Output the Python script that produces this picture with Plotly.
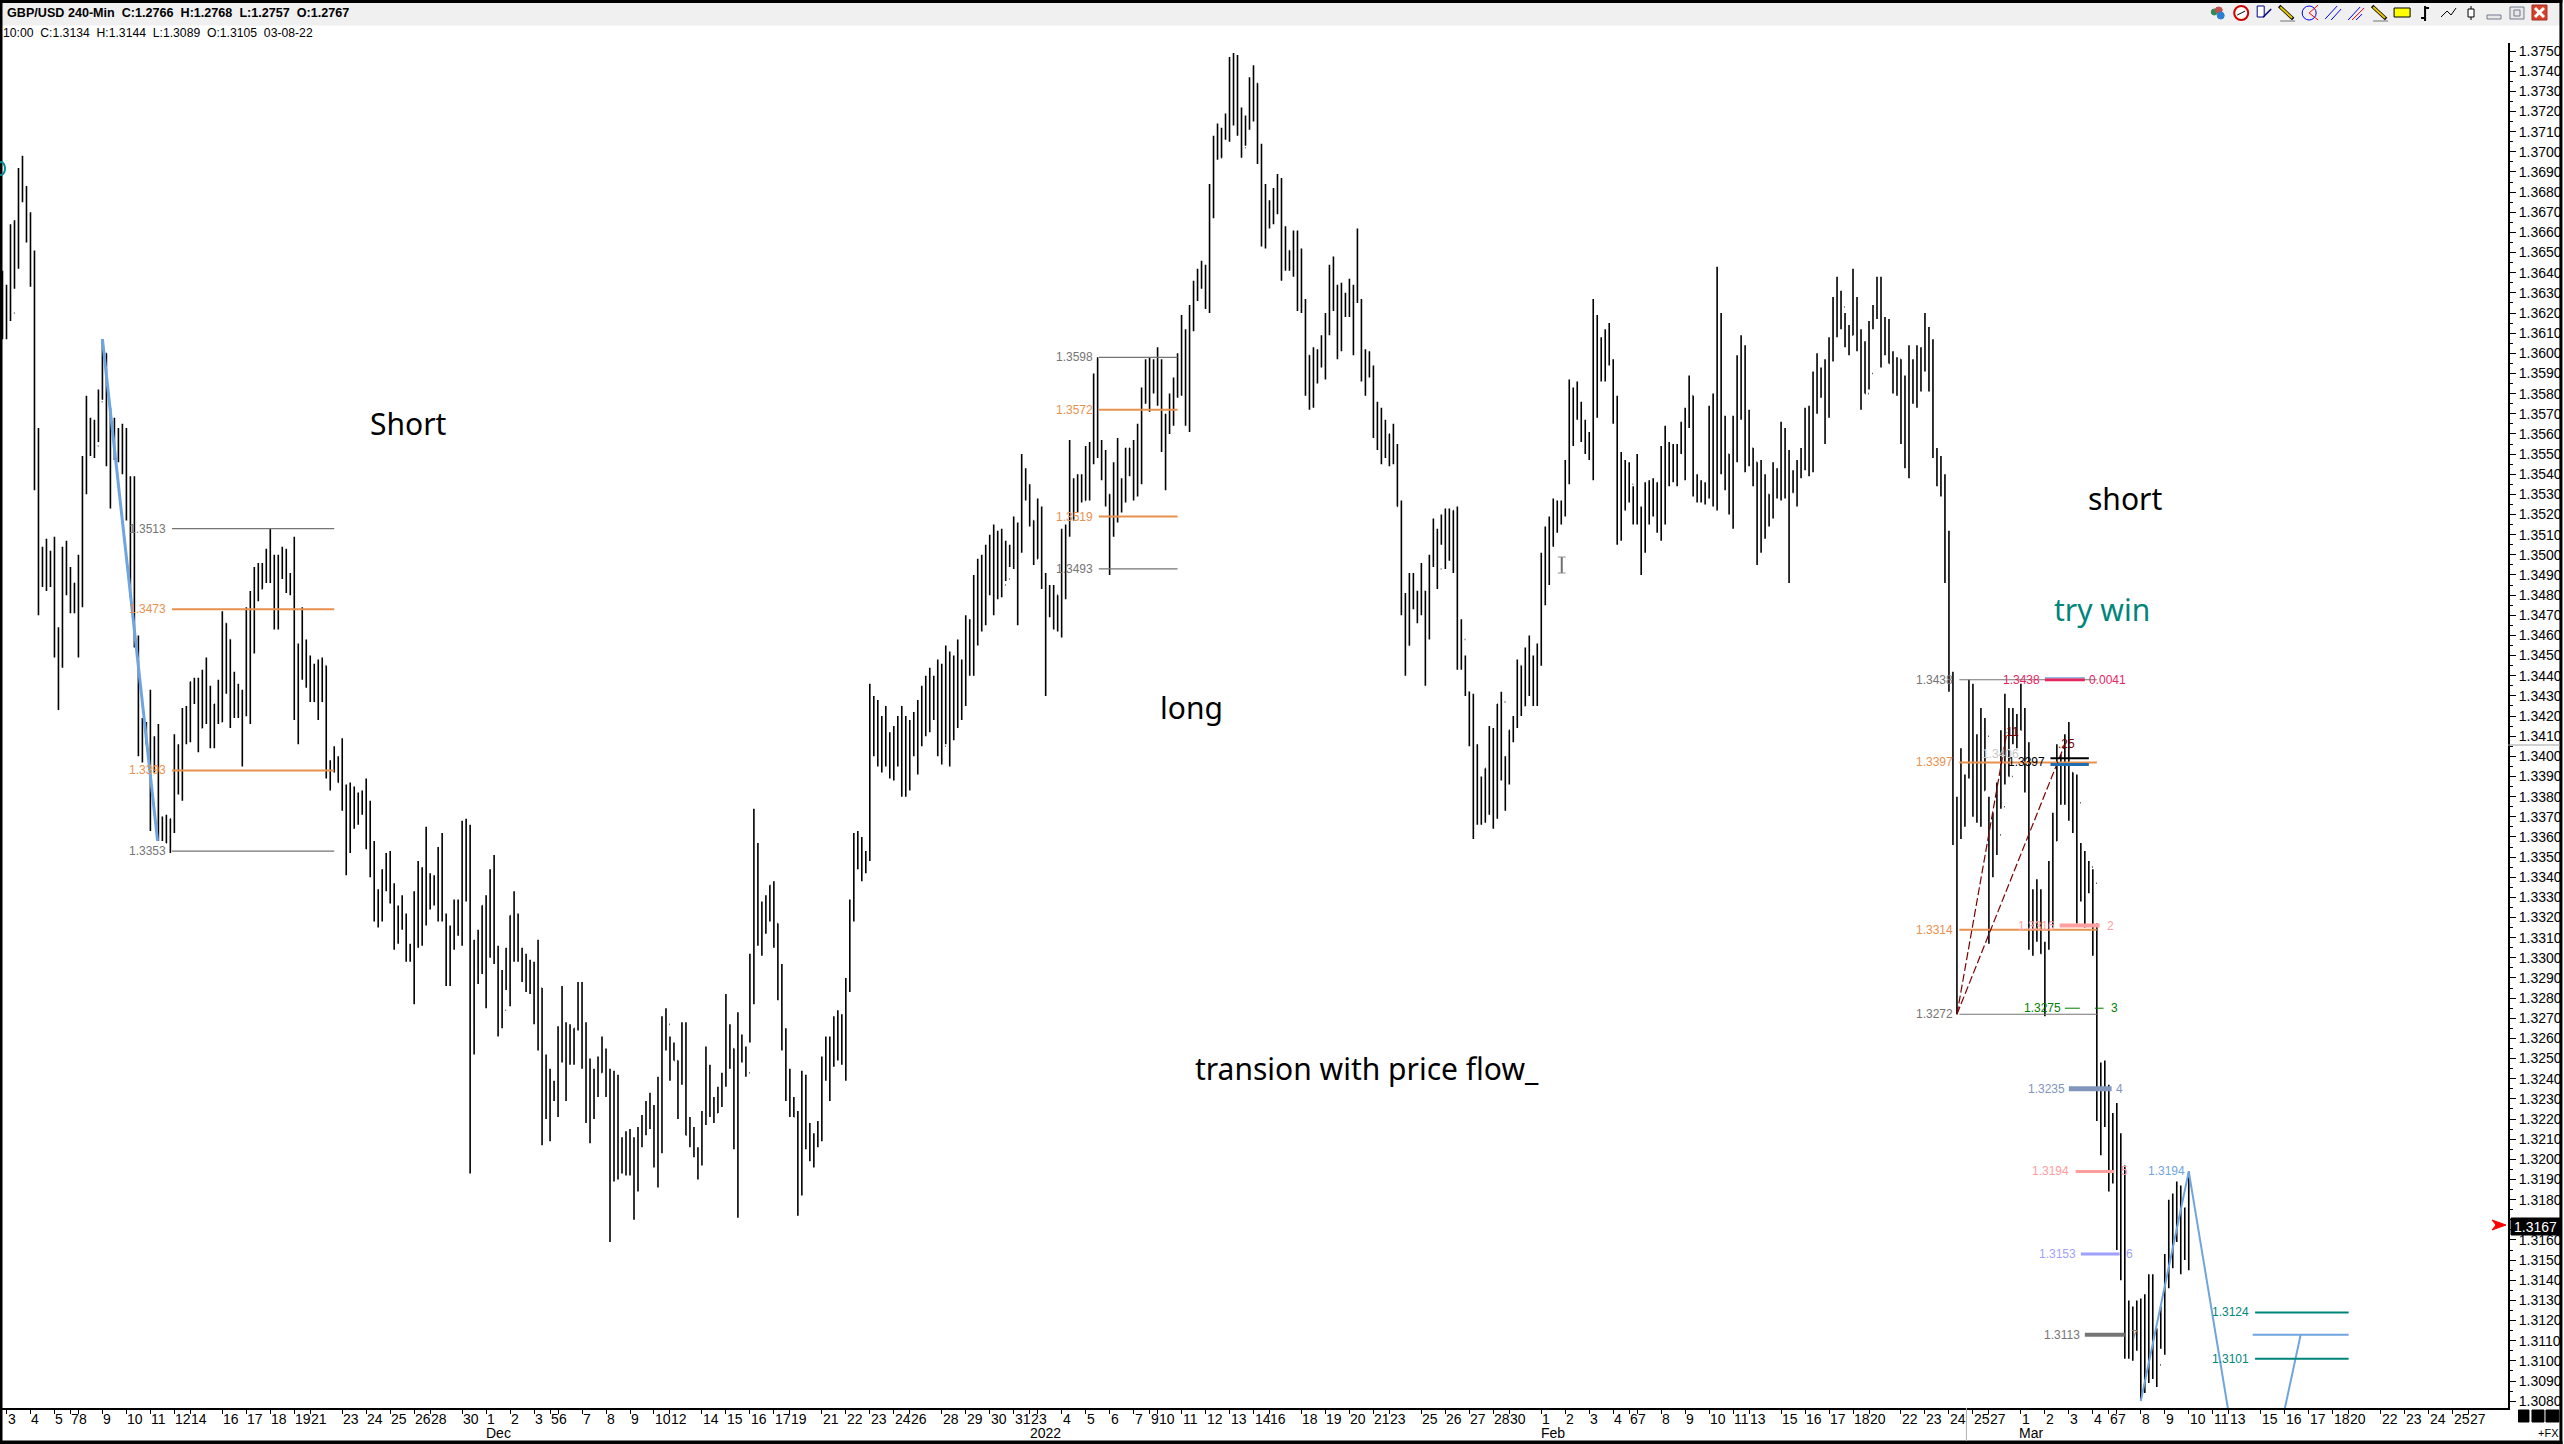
import plotly.graph_objects as go

# GBP/USD 240-min bars, prices in pips (13513 = 1.3513)
HIGH = [
    13641,13634,13664,13666,13692,13698,13683,13670,13651,
    13563,13504,13508,13502,13509,13464,13504,13507,13494,13486,13500,
    13549,13579,13568,13567,13582,13607,13600,13573,13568,13563,
    13565,13563,13539,13539,13460,13419,13417,13433,13410,13416,
    13370,13371,13369,13411,13406,13424,13425,13437,13439,13439,
    13443,13449,13435,13426,13438,13472,13466,13458,13442,13436,
    13433,13474,13482,13494,13496,13496,13503,13513,13500,13500,
    13504,13503,13491,13509,13456,13474,13458,13450,13446,13448,
    13449,13445,13398,13405,13400,13409,13386,13387,13385,13382,
    13383,13389,13378,13358,13334,13344,13352,13353,13337,13326,
    13331,13322,13307,13333,13348,13345,13365,13342,13341,13355,
    13362,13322,13316,13329,13329,13368,13369,13366,13309,13314,
    13326,13331,13344,13351,13306,13294,13305,13321,13333,13322,
    13305,13302,13299,13298,13309,13285,13252,13245,13239,13266,
    13286,13268,13267,13265,13288,13288,13268,13250,13245,13251,
    13261,13255,13245,13244,13242,13211,13214,13215,13211,13216,
    13222,13229,13233,13227,13241,13271,13275,13261,13258,13249,
    13268,13268,13221,13216,13206,13224,13256,13247,13231,13236,
    13243,13282,13267,13255,13273,13262,13256,13302,13374,13357,
    13328,13331,13336,13338,13317,13297,13265,13245,13231,13224,
    13244,13242,13218,13213,13219,13251,13261,13261,13271,13274,
    13272,13290,13329,13362,13363,13360,13353,13436,13430,13428,
    13420,13425,13412,13415,13420,13425,13420,13418,13422,13428,
    13435,13440,13444,13440,13448,13446,13455,13452,13450,13458,
    13448,13470,13468,13490,13498,13500,13505,13510,13515,13512,
    13513,13507,13505,13519,13516,13550,13543,13535,13517,13528,
    13524,13491,13485,13485,13480,13513,13515,13557,13538,13540,
    13540,13554,13556,13590,13598,13557,13552,13530,13546,13558,
    13538,13553,13553,13557,13565,13583,13597,13598,13597,13603,
    13597,13570,13580,13588,13600,13619,13612,13624,13636,13642,
    13646,13644,13684,13708,13714,13712,13719,13747,13749,13748,
    13722,13718,13737,13743,13734,13704,13684,13676,13682,13689,
    13687,13663,13651,13661,13661,13652,13627,13599,13603,13602,
    13609,13620,13644,13648,13634,13635,13630,13637,13634,13662,
    13627,13602,13601,13594,13576,13573,13567,13560,13565,13555,
    13527,13481,13491,13491,13482,13496,13482,13500,13518,13513,
    13520,13523,13523,13522,13524,13468,13450,13432,13431,13406,
    13390,13394,13415,13414,13426,13432,13400,13413,13420,13448,
    13445,13454,13460,13450,13456,13501,13514,13519,13528,13527,
    13527,13547,13587,13583,13586,13576,13567,13561,13627,13619,
    13608,13612,13615,13597,13579,13551,13547,13546,13534,13550,
    13524,13536,13537,13538,13536,13554,13564,13556,13555,13555,
    13566,13573,13589,13579,13540,13537,13536,13574,13580,13643,
    13620,13569,13550,13569,13599,13609,13604,13572,13553,13546,
    13547,13540,13530,13546,13543,13566,13563,13552,13542,13547,
    13553,13573,13574,13591,13600,13593,13597,13608,13628,13638,
    13631,13620,13614,13642,13628,13612,13606,13616,13624,13638,
    13638,13618,13617,13601,13598,13597,13589,13604,13597,13604,
    13603,13620,13613,13607,13553,13549,13540,13512,13442,13380,
    13404,13391,13438,13436,13411,13424,13419,13380,13372,13387,
    13413,13431,13424,13424,13421,13436,13424,13407,13334,13339,
    13334,13308,13348,13372,13406,13401,13411,13417,13392,13391,
    13357,13353,13348,13344,13317,13248,13249,13237,13223,13228,
    13213,13197,13130,13127,13130,13131,13133,13143,13143,13116,
    13127,13153,13180,13183,13189,13187,13176,13194,
]
LOW = [
    13607,13607,13616,13632,13642,13675,13655,13633,13532,
    13470,13484,13482,13484,13449,13423,13444,13480,13471,13471,13449,
    13474,13530,13549,13548,13556,13577,13544,13523,13547,13546,
    13540,13517,13479,13454,13400,13397,13406,13363,13392,13358,
    13358,13357,13352,13362,13381,13378,13406,13407,13426,13402,
    13414,13416,13404,13404,13416,13417,13431,13414,13419,13419,
    13395,13420,13416,13451,13477,13483,13486,13486,13463,13463,
    13488,13481,13480,13418,13406,13438,13434,13427,13427,13418,
    13427,13389,13383,13392,13387,13373,13341,13352,13364,13366,
    13371,13354,13340,13318,13315,13318,13333,13327,13304,13307,
    13314,13298,13298,13277,13305,13306,13316,13324,13326,13318,
    13318,13286,13286,13304,13311,13306,13328,13193,13252,13287,
    13292,13275,13300,13297,13261,13265,13284,13276,13298,13298,
    13288,13283,13282,13267,13254,13207,13220,13209,13229,13221,
    13248,13229,13247,13247,13264,13245,13218,13208,13220,13231,
    13243,13231,13159,13189,13190,13193,13192,13192,13170,13184,
    13206,13212,13215,13196,13186,13203,13254,13239,13249,13220,
    13237,13212,13206,13201,13190,13197,13217,13221,13218,13223,
    13226,13236,13245,13205,13171,13248,13241,13258,13277,13306,
    13301,13312,13318,13305,13279,13254,13229,13221,13221,13172,
    13182,13205,13199,13196,13206,13209,13239,13229,13246,13249,
    13247,13239,13283,13318,13344,13338,13342,13348,13400,13395,
    13392,13395,13389,13388,13395,13380,13380,13383,13400,13391,
    13405,13410,13412,13418,13400,13396,13406,13395,13408,13414,
    13418,13425,13440,13440,13455,13462,13465,13480,13470,13478,
    13479,13487,13494,13493,13465,13501,13527,13514,13495,13498,
    13483,13430,13469,13463,13462,13459,13478,13509,13517,13521,
    13526,13527,13527,13545,13548,13537,13524,13490,13509,13516,
    13521,13526,13539,13527,13529,13535,13575,13571,13580,13574,
    13551,13532,13560,13564,13578,13579,13564,13561,13611,13626,
    13632,13622,13620,13667,13696,13697,13706,13705,13713,13708,
    13697,13703,13711,13715,13694,13653,13652,13662,13664,13669,
    13636,13641,13641,13638,13621,13620,13579,13572,13573,13585,
    13593,13587,13609,13621,13597,13601,13618,13618,13599,13625,
    13586,13579,13588,13558,13552,13545,13548,13544,13545,13524,
    13470,13440,13455,13473,13466,13470,13435,13458,13494,13483,
    13505,13493,13497,13491,13443,13443,13430,13405,13359,13366,
    13366,13367,13371,13364,13369,13388,13373,13386,13407,13414,
    13420,13425,13430,13425,13425,13445,13475,13485,13504,13511,
    13515,13519,13535,13554,13567,13556,13550,13547,13537,13568,
    13586,13586,13594,13565,13505,13507,13522,13526,13515,13515,
    13490,13501,13515,13519,13511,13507,13515,13534,13536,13534,
    13550,13537,13563,13529,13526,13526,13525,13528,13524,13522,
    13540,13532,13520,13513,13546,13567,13541,13544,13534,13495,
    13501,13508,13514,13518,13528,13527,13528,13486,13531,13524,
    13538,13542,13539,13541,13570,13578,13555,13568,13596,13608,
    13612,13603,13599,13609,13601,13572,13580,13582,13612,13617,
    13593,13599,13595,13580,13579,13555,13543,13538,13575,13573,
    13581,13591,13581,13548,13534,13529,13486,13432,13356,13272,
    13359,13365,13389,13370,13367,13365,13383,13307,13340,13351,
    13374,13386,13390,13406,13404,13413,13382,13304,13301,13308,
    13302,13271,13304,13315,13358,13376,13376,13368,13362,13317,
    13328,13315,13332,13301,13219,13202,13216,13184,13188,13155,
    13140,13101,13101,13100,13105,13081,13084,13089,13091,13087,
    13106,13103,13136,13146,13159,13143,13150,13145,
]
CLOSE = [
    13631,13630,13620,13663,13685,13680,13657,13644,13544,
    13491,13497,13498,13495,13450,13445,13503,13493,13472,13486,13489,
    13541,13557,13560,13554,13576,13600,13556,13555,13554,13550,
    13551,13534,13506,13459,13401,13406,13416,13392,13400,13370,
    13365,13357,13369,13394,13397,13422,13411,13437,13437,13414,
    13435,13422,13409,13426,13417,13466,13458,13428,13427,13428,
    13420,13431,13454,13490,13483,13490,13488,13492,13466,13497,
    13492,13489,13486,13432,13440,13455,13441,13434,13445,13428,
    13445,13393,13395,13399,13387,13378,13368,13374,13374,13378,
    13379,13354,13353,13322,13324,13335,13344,13333,13313,13324,
    13317,13303,13305,13314,13337,13333,13336,13335,13337,13339,
    13319,13300,13309,13326,13317,13362,13344,13264,13295,13293,
    13326,13311,13343,13302,13275,13274,13288,13321,13311,13300,
    13298,13293,13290,13295,13285,13236,13231,13238,13230,13259,
    13266,13254,13261,13265,13284,13261,13226,13226,13242,13243,
    13253,13242,13216,13237,13202,13199,13207,13204,13205,13211,
    13218,13226,13219,13200,13228,13267,13267,13254,13249,13244,
    13254,13212,13212,13202,13204,13221,13232,13227,13223,13232,
    13242,13259,13255,13211,13257,13252,13243,13291,13356,13319,
    13319,13325,13336,13317,13289,13260,13233,13226,13221,13184,
    13238,13209,13204,13211,13216,13247,13253,13248,13258,13252,
    13248,13285,13328,13355,13345,13350,13350,13420,13415,13405,
    13410,13400,13392,13408,13412,13392,13400,13410,13415,13420,
    13425,13420,13435,13428,13440,13405,13445,13410,13440,13435,
    13440,13460,13445,13480,13490,13470,13498,13490,13500,13490,
    13485,13488,13503,13509,13504,13534,13532,13517,13498,13516,
    13486,13471,13476,13480,13468,13512,13514,13535,13526,13539,
    13527,13531,13548,13589,13552,13551,13530,13512,13534,13530,
    13527,13553,13544,13555,13539,13579,13584,13594,13585,13582,
    13553,13562,13574,13579,13596,13609,13573,13617,13635,13633,
    13641,13627,13677,13707,13697,13707,13710,13737,13738,13712,
    13702,13712,13732,13734,13700,13655,13670,13667,13674,13679,
    13651,13651,13643,13659,13634,13626,13599,13577,13594,13600,
    13608,13613,13629,13626,13612,13628,13623,13626,13633,13626,
    13598,13596,13592,13568,13572,13556,13553,13560,13546,13524,
    13473,13455,13485,13482,13476,13482,13467,13497,13501,13493,
    13508,13509,13507,13522,13459,13458,13432,13426,13379,13372,
    13382,13394,13393,13382,13426,13427,13387,13413,13417,13445,
    13425,13445,13440,13432,13450,13498,13495,13506,13520,13516,
    13525,13541,13560,13577,13575,13564,13552,13558,13581,13607,
    13593,13604,13596,13569,13511,13535,13527,13535,13520,13516,
    13521,13517,13535,13535,13517,13551,13538,13544,13537,13554,
    13555,13569,13579,13538,13533,13531,13530,13571,13546,13611,
    13553,13550,13532,13556,13573,13601,13547,13553,13546,13513,
    13527,13530,13523,13537,13530,13551,13542,13531,13531,13546,
    13551,13562,13550,13580,13583,13590,13583,13604,13617,13623,
    13623,13612,13609,13623,13606,13583,13580,13590,13618,13635,
    13604,13616,13595,13583,13597,13579,13551,13593,13579,13600,
    13592,13604,13605,13550,13541,13539,13496,13433,13358,13367,
    13372,13390,13390,13374,13387,13383,13410,13362,13362,13361,
    13375,13414,13390,13413,13418,13413,13396,13312,13315,13330,
    13302,13307,13347,13358,13377,13383,13394,13392,13381,13377,
    13333,13343,13345,13337,13230,13227,13226,13201,13213,13168,
    13172,13111,13103,13122,13111,13119,13106,13133,13099,13098,
    13112,13150,13161,13182,13171,13158,13176,13167,
]

# date axis: bar index of each tick and the day printed beside it
TICK_BARS = [1,7,13,17,19,25,31,37,43,47,55,61,67,73,77,85,91,97,103,107,115,
             121,127,133,137,139,145,151,157,163,167,175,181,187,193,197,205,211,
             217,223,227,235,241,247,253,257,259,265,271,277,283,287,289,295,301,
             307,313,317,325,331,337,343,347,355,361,367,373,377,385,391,397,403,
             407,409,415,421,427,433,437,445,451,457,463,467,475,481,487,493,497,
             505,511,517,523,527,529,535,541,547,553,557,565,571,577,583,587,595,
             601,607,613,617]
TICK_DAYS = [3,4,5,7,8,9,10,11,12,14,16,17,18,19,21,23,24,25,26,28,30,
             1,2,3,5,6,7,8,9,10,12,14,15,16,17,19,21,22,
             23,24,26,28,29,30,31,2,3,4,5,6,7,9,10,11,12,
             13,14,16,18,19,20,21,23,25,26,27,28,30,1,2,3,4,
             6,7,8,9,10,11,13,15,16,17,18,20,22,23,24,25,27,
             1,2,3,4,6,7,8,9,10,11,13,15,16,17,18,20,22,
             23,24,25,27]
MONTHS = ["Dec", "2022", "Feb", "Mar"]
MONTH_BARS = [124, 261, 388, 507.5]

# price axis, every 10 pips; the last price tag covers 1.3170
PRICE_TICKS = [(13080 + 10 * n) / 10000 for n in range(68)]
PRICE_TEXT = ["" if t == 1.317 else f"{t:.4f}" for t in PRICE_TICKS]

# page geometry of the plot area
W, H = 2564, 1444
L, R, T, B = 2, 2510, 43, 1408
px = lambda x: (x - L) / (R - L)
py = lambda y: (B - y) / (B - T)
FONT = "Liberation Sans"
ORANGE, GREY, TEAL, BLUE = "#e8914f", "#757575", "#00857a", "#6fa5de"

opens = [CLOSE[0]] + CLOSE[:-1]
bars = list(range(len(CLOSE)))
p = lambda vals: [v / 10000 for v in vals]

fig = go.Figure()


def level(x0, x1, price, color, width, dash="solid"):
    fig.add_trace(go.Scatter(x=[x0, x1], y=[price / 10000, price / 10000], mode="lines",
                             line=dict(color=color, width=width, dash=dash), hoverinfo="skip"))


def path(xs, prices, color, width, dash="solid"):
    fig.add_trace(go.Scatter(x=xs, y=p(prices), mode="lines",
                             line=dict(color=color, width=width, dash=dash), hoverinfo="skip"))


def label(x, price, text, color, anchor="right", size=12):
    fig.add_annotation(x=x, y=price / 10000, text=text, showarrow=False, xanchor=anchor,
                       borderpad=0, font=dict(family=FONT, size=size, color=color))


def big_text(x, price, text, color="#000000"):
    fig.add_annotation(x=x, y=price / 10000, text=text, showarrow=False,
                       font=dict(family="Noto Sans", size=30, color=color))


def page_text(x, y, text, anchor="left", size=12, color="#000000", bold=False):
    fig.add_annotation(xref="paper", yref="paper", x=px(x), y=py(y), text=f"<b>{text}</b>" if bold else text,
                       showarrow=False, xanchor=anchor, yanchor="middle", borderpad=0,
                       font=dict(family=FONT, size=size, color=color))


def rect(x0, y0, x1, y1, fill, line=None, width=1):
    fig.add_shape(type="rect", xref="paper", yref="paper", x0=px(x0), x1=px(x1), y0=py(y0), y1=py(y1),
                  fillcolor=fill, line=dict(color=line or fill, width=width), layer="above")


def seg(x0, y0, x1, y1, color, width=1):
    fig.add_shape(type="line", xref="paper", yref="paper", x0=px(x0), x1=px(x1), y0=py(y0), y1=py(y1),
                  line=dict(color=color, width=width), layer="above")


def ring(x0, y0, x1, y1, color, width=2, fill="rgba(0,0,0,0)"):
    fig.add_shape(type="circle", xref="paper", yref="paper", x0=px(x0), x1=px(x1), y0=py(y0), y1=py(y1),
                  fillcolor=fill, line=dict(color=color, width=width), layer="above")


# retracement boxes
for price, color, w in [(13513, GREY, 1.2), (13473, ORANGE, 2), (13393, ORANGE, 2), (13353, GREY, 1.2)]:
    level(42.4, 83, price, color, w)
    label(41.2, price, f"1.{price - 10000}", color)
for price, color, w in [(13598, GREY, 1.2), (13572, ORANGE, 2), (13519, ORANGE, 2), (13493, GREY, 1.2)]:
    level(274.3, 294, price, color, w)
    label(273.2, price, f"1.{price - 10000}", color)
for price, color, w in [(13438, GREY, 1.2), (13397, ORANGE, 2), (13314, ORANGE, 2), (13272, GREY, 1.2)]:
    level(489.6, 524, price, color, w)
    label(488.2, price, f"1.{price - 10000}", color)

# trend lines
path([25, 38.8], [13607, 13358], BLUE, 3)
path([535, 547, 563, 575], [13080, 13194, 13002, 13113], BLUE, 2)
level(563, 587, 13113, BLUE, 2)
path([489, 501.5], [13272, 13412], "#7a0000", 1.2, "8px,3px")
path([489, 516], [13272, 13406], "#7a0000", 1.2, "8px,3px")

# target levels on the right leg
level(511, 521, 13438, "#e8245f", 3)
level(511, 521, 13439, BLUE, 1)
level(512.4, 522, 13399, "#000000", 2)
level(512.4, 522, 13396, "#1f6fb0", 3)
level(514.7, 524.7, 13316, "#ffa0a0", 4)
level(516, 525.7, 13275, "#008000", 1, "longdash")
level(517, 527.7, 13235, "#8296bd", 5)
level(518.7, 528.4, 13194, "#ff9d9d", 3)
level(520, 529.7, 13153, "#a0a0ff", 3)
level(521, 531, 13113, GREY, 4)
level(563.6, 587, 13124, TEAL, 2)
level(563.6, 587, 13101, TEAL, 2)

fig.add_trace(go.Ohlc(x=bars, open=p(opens), high=p(HIGH), low=p(LOW), close=p(CLOSE), tickwidth=0.15,
                      increasing_line=dict(color="#000000", width=1.6),
                      decreasing_line=dict(color="#000000", width=1.6), hoverinfo="skip"))

label(510.1, 13438, "1.3438", "#e8245f")
label(521.9, 13438, "0.0041", "#e8245f", "left")
label(504.7, 13401, "1.3406", "#c8c8c8")
label(511.2, 13397, "1.3397", "#000000")
label(502.4, 13412, ".11", "#7a0000", "center")
label(516.5, 13406, ".25", "#7a0000", "center")
label(513.7, 13316, "1.3316", "#ffa0a0")
label(527.4, 13316, "2", "#ffa0a0", "center")
label(515.2, 13275, "1.3275", "#008000")
label(528.4, 13275, "3", "#008000", "center")
label(516.4, 13235, "1.3235", "#8296bd")
label(529.7, 13235, "4", "#8296bd", "center")
label(517.4, 13194, "1.3194", "#ff9d9d")
label(531, 13194, "5", "#ff9d9d", "center")
label(519, 13153, "1.3153", "#a0a0ff")
label(532.2, 13153, "6", "#a0a0ff", "center")
label(520, 13113, "1.3113", GREY)
label(533.4, 13113, "7", GREY, "center")
label(546.4, 13194, "1.3194", BLUE)
label(562.3, 13124, "1.3124", TEAL)
label(562.3, 13101, "1.3101", TEAL)

big_text(101.7, 13565, "Short")
big_text(297.5, 13424, "long")
big_text(341.5, 13245, "transion with price flow_")
big_text(531, 13528, "short")
big_text(525.2, 13473, "try win", TEAL)

# day numbers sit just right of their ticks
for bar, day in zip(TICK_BARS, TICK_DAYS):
    fig.add_annotation(x=bar, y=0, yref="paper", text=str(day), showarrow=False, xanchor="left", yanchor="top",
                       yshift=-2, borderpad=0, font=dict(family=FONT, size=14, color="#000000"))
for bar, month in zip(MONTH_BARS, MONTHS):
    fig.add_annotation(x=bar, y=0, yref="paper", text=month, showarrow=False, xanchor="center", yanchor="top",
                       yshift=-16, borderpad=0, font=dict(family=FONT, size=14, color="#000000"))

# window chrome
rect(0, 2, W, 25, "#f0f0f0")
rect(0, 0, W, 2.5, "#000000")
rect(0, 0, 2, H, "#000000")
rect(0, H - 3, W, H, "#000000")
rect(W - 2, 0, W, H, "#000000")
page_text(6, 13, "GBP/USD 240-Min  C:1.2766  H:1.2768  L:1.2757  O:1.2767", size=12.6, bold=True)
page_text(2, 33, "10:00  C:1.3134  H:1.3144  L:1.3089  O:1.3105  03-08-22", size=12.2)
seg(1968, B, 1968, H - 3, "#b0b0b0")
for x0, x1 in [(2520.5, 2531), (2534, 2546), (2548, 2561)]:
    rect(x0, 1410, x1, 1422, "#000000")
page_text(2551, 1433, "+FX", "center", 11)

# last price tag and marker
seg(R, 745, W - 2, 745, "#a0a0a0")
rect(2513, 1218, 2563, 1235, "#000000")
page_text(2538, 1227, "1.3167", "center", 14, "#ffffff")
fig.add_shape(type="path", xref="paper", yref="paper", fillcolor="#ff0000", line=dict(color="#ff0000", width=1),
              layer="above",
              path=f"M {px(2494)} {py(1220)} L {px(2508)} {py(1225)} L {px(2494)} {py(1230)} L {px(2498)} {py(1225)} Z")

# toolbar icons
ring(2213, 9, 2219, 15, "#2e8b57", 1, "#2e8b57")
ring(2217, 7, 2224, 13, "#c0504d", 1, "#c0504d")
ring(2219, 12, 2226, 19, "#2a7fd0", 1, "#2a7fd0")
ring(2236, 6, 2250, 20, "#d00000", 2, "#ffffff")
seg(2243, 13, 2247, 11, "#000000")
seg(2239, 15, 2243, 13, "#000000")
rect(2259, 6, 2266, 17, "#ffffff", "#000080")
seg(2265, 17, 2273, 9, "#000080", 1.5)
for x in (2281, 2374):
    seg(x, 6, x + 14, 19, "#000000", 3.5)
    seg(x + 1, 7, x + 13, 18, "#e8c800", 2)
    seg(x + 1, 21, x + 16, 21, GREY)
ring(2304, 6, 2318, 20, "#0000ff", 1)
seg(2311, 13, 2320, 5, "#ff0000")
seg(2311, 13, 2320, 20, "#ff0000")
seg(2327, 19, 2339, 6, "#0000ff")
seg(2333, 20, 2343, 9, "#0000ff")
seg(2350, 20, 2362, 7, "#0000ff")
seg(2354, 20, 2366, 8, "#ff0000")
seg(2358, 20, 2364, 14, "#0000ff")
rect(2396, 8, 2412, 17, "#ffff00", "#000000")
seg(2427, 6, 2427, 21, "#000000", 2)
seg(2427, 8, 2431, 8, "#000000", 2)
seg(2423, 18, 2427, 18, "#000000", 2)
seg(2443, 17, 2449, 11, "#000000")
seg(2449, 11, 2453, 15, "#000000")
seg(2453, 15, 2458, 8, "#000000")
seg(2473, 6, 2473, 20, "#000000")
rect(2470, 9, 2476, 17, "#ffffff", "#000000")
rect(2489, 15, 2503, 19, "#e8e8e8", "#707a90")
rect(2512, 7, 2526, 19, "#e8e8e8", "#707a90")
rect(2516, 10, 2522, 16, "#e8e8e8", "#707a90")
rect(2534, 5, 2549, 20, "#d8402a", "#a03020")
seg(2537, 8, 2546, 17, "#ffffff", 3)
seg(2546, 8, 2537, 17, "#ffffff", 3)

# stray marks from the screenshot: text cursor and a clipped circle at the left edge
seg(1563, 557, 1563, 573, "#707070", 2)
seg(1559, 557, 1567, 557, "#909090")
seg(1559, 573, 1567, 573, "#909090")
ring(-3, 162, 5, 175, "#008a9a", 2)

fig.update_layout(
    width=W, height=H, margin=dict(l=L, r=W - R, t=T, b=H - B, pad=0),
    paper_bgcolor="#ffffff", plot_bgcolor="#ffffff", showlegend=False,
    font=dict(family=FONT, size=14, color="#000000"),
    xaxis=dict(range=[-0.125, 626.875], tickvals=TICK_BARS, showticklabels=False, showgrid=False,
               zeroline=False, showline=True, linecolor="#000000", linewidth=2,
               ticks="outside", ticklen=4, tickcolor="#000000", rangeslider=dict(visible=False)),
    yaxis=dict(range=[1.30766, 1.3754], side="right", tickvals=PRICE_TICKS, ticktext=PRICE_TEXT,
               showgrid=False, zeroline=False, showline=True, linecolor="#000000", linewidth=2,
               ticks="outside", ticklen=6, tickcolor="#000000",
               minor=dict(dtick=0.0005, ticks="outside", ticklen=3, tickcolor="#000000", showgrid=False)),
)

fig.write_html("out.html", config={"displayModeBar": False},
               post_script="document.body.style.margin='0';document.body.style.overflow='hidden';")
